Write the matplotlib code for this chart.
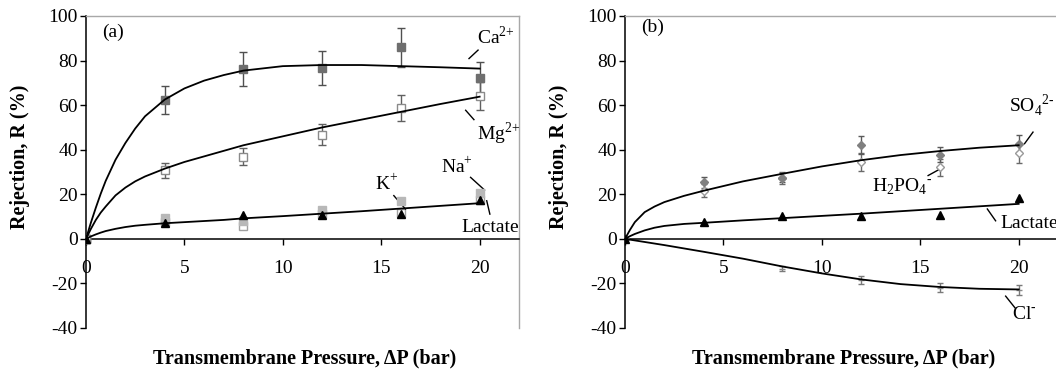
import matplotlib
matplotlib.use("Agg")
import matplotlib.pyplot as plt

plt.rcParams['font.family'] = ['Liberation Serif', 'DejaVu Serif']
plt.rcParams['mathtext.fontset'] = 'custom'
plt.rcParams['mathtext.rm'] = 'Liberation Serif'
plt.rcParams['axes.unicode_minus'] = False

# ---- panel (a): cations ----
p_a = [0, 4, 8, 12, 16, 20]
ca = [0, 62.3, 76.3, 76.6, 86.0, 72.4]
ca_err = [0, 6.2, 7.7, 7.7, 8.7, 7.0]
mg = [0, 30.8, 36.9, 46.7, 58.7, 64.0]
mg_err = [0, 3.3, 3.8, 4.7, 6.0, 6.3]
na = [0, 9.3, 8.1, 13.0, 16.8, 20.5]
k = [0, 7.5, 5.7, 11.0, 11.5, 17.5]
lac_a = [0, 6.9, 10.7, 10.7, 11.1, 17.6]

# fitted curves of panel (a)
fit_p = [0, 0.25, 0.5, 0.75, 1, 1.5, 2, 2.5, 3, 4, 5, 6, 7, 8, 10, 12, 14, 16, 18, 20]
ca_fit = [0, 7.3, 14, 20.3, 26, 35.5, 43, 49.5, 55, 62.5, 67.5, 71, 73.5, 75.5, 77.5, 78, 78, 77.5, 77, 76.4]
mg_fit = [0, 4.5, 8.5, 11.8, 14.5, 19.5, 23, 25.8, 28, 31.5, 34.5, 37, 39.5, 42, 46, 50, 53.5, 57, 60.5, 63.8]
low_fit_a = [0, 1.1, 2, 2.8, 3.5, 4.5, 5.3, 5.9, 6.3, 7, 7.5, 8, 8.5, 9.2, 10.2, 11.3, 12.4, 13.6, 14.8, 16]

# ---- panel (b): anions ----
p_b = [0, 4, 8, 12, 16, 20]
so4 = [0, 25.4, 27.5, 42.3, 37.8, 42.6]
so4_err = [0, 2.5, 2.0, 4.0, 3.3, 3.8]
h2po4 = [0, 21.6, 27.3, 34.4, 32.1, 38.4]
h2po4_err = [0, 3.0, 2.6, 4.0, 3.7, 4.5]
lac_b = [0, 7.4, 10.4, 10.2, 10.8, 18.3]
p_cl = [0, 8, 12, 16, 20]
cl = [0, -13.4, -18.5, -21.9, -22.8]
cl_err = [0, 1.2, 1.9, 2.0, 2.2]

fit_pb = [0, 0.25, 0.5, 1, 1.5, 2, 3, 4, 6, 8, 10, 12, 14, 16, 18, 20]
so4_fit = [0, 4, 7.5, 12, 14.5, 16.5, 19.3, 21.6, 25.8, 29.2, 32.5, 35.3, 37.6, 39.4, 40.9, 42]
lac_fit_b = [0, 1.2, 2.2, 3.8, 5, 5.8, 6.7, 7.2, 8.3, 9.3, 10.3, 11.3, 12.4, 13.5, 14.6, 15.7]
cl_fit_p = [0, 2, 4, 6, 8, 10, 12, 14, 16, 18, 20]
cl_fit = [0, -2.8, -5.8, -8.9, -12.4, -15.5, -18.2, -20.3, -21.6, -22.4, -22.7]

y_ticks = [-40, -20, 0, 20, 40, 60, 80, 100]
x_ticks = [0, 5, 10, 15, 20]

W, H = 1056, 371
fig = plt.figure(figsize=(W / 100, H / 100), dpi=100)
ax_a = fig.add_axes([86 / W, 1 - 328 / H, 433 / W, 312 / H])
ax_b = fig.add_axes([625 / W, 1 - 328 / H, 433 / W, 312 / H])


def style_axes(ax):
    ax.set_xlim(0, 22)
    ax.set_ylim(-40, 100)
    ax.set_yticks(y_ticks)
    ax.set_xticks(x_ticks)
    ax.spines['bottom'].set_position(('data', 0))
    ax.spines['bottom'].set_linewidth(1.1)
    ax.spines['left'].set_linewidth(1.1)
    for s in ['top', 'right']:
        ax.spines[s].set_color('#a8a8a8')
        ax.spines[s].set_linewidth(1.0)
    ax.tick_params(axis='y', direction='out', length=4.5, width=1, pad=1.5, labelsize=14)
    ax.tick_params(axis='x', direction='out', length=4, width=1, pad=11, labelsize=14)
    ax.set_ylabel('Rejection, R (%)', fontsize=14.5, fontweight='bold')
    ax.yaxis.set_label_coords(-0.13, 0.55)
    ax.set_xlabel('Transmembrane Pressure, ΔP (bar)', fontsize=14.5, fontweight='bold')
    ax.xaxis.set_label_coords(0.505, -0.065)


def pointer(ax, x0, y0, x1, y1):
    ax.plot([x0, x1], [y0, y1], color='black', lw=1.0, clip_on=False)


style_axes(ax_a)
style_axes(ax_b)

# panel (a)
ax_a.plot(fit_p, ca_fit, color='black', lw=1.3, zorder=4)
ax_a.plot(fit_p, mg_fit, color='black', lw=1.3, zorder=4)
ax_a.plot(fit_p, low_fit_a, color='black', lw=1.3, zorder=4)
ax_a.errorbar(p_a, ca, yerr=ca_err, fmt='s', ms=6, color='#6e6e6e', ecolor='#505050',
              elinewidth=1.0, capsize=3, capthick=1.0, zorder=3)
ax_a.errorbar(p_a, mg, yerr=mg_err, fmt='s', ms=6, mfc='white', mec='#8a8a8a', ecolor='#606060',
              elinewidth=1.0, capsize=3, capthick=1.0, zorder=3)
ax_a.plot(p_a, k, 's', ms=6, mfc='white', mec='#a0a0a0', zorder=2)
ax_a.plot(p_a, na, 's', ms=6, color='#b8b8b8', zorder=3)
ax_a.plot(p_a, lac_a, '^', ms=5.5, color='black', zorder=5)

ax_a.text(1.35, 92.6, '(a)', fontsize=14, ha='center', va='center')
ax_a.text(19.85, 90.5, r'Ca$^{2\text{+}}$', fontsize=14, ha='left', va='center')
pointer(ax_a, 19.46, 80.9, 19.92, 84.7)
ax_a.text(19.85, 47.3, r'Mg$^{2\text{+}}$', fontsize=14, ha='left', va='center')
pointer(ax_a, 19.29, 57.7, 19.71, 53.5)
ax_a.text(18.86, 32.1, r'Na$^{\text{+}}$', fontsize=14, ha='center', va='center')
pointer(ax_a, 19.54, 27.6, 20.25, 21.9)
ax_a.text(15.26, 24.6, r'K$^{\text{+}}$', fontsize=14, ha='center', va='center')
pointer(ax_a, 15.64, 19.4, 16.23, 13.4)
ax_a.text(20.56, 5.1, 'Lactate', fontsize=14, ha='center', va='center')
pointer(ax_a, 20.36, 17.1, 20.52, 11.1)

# panel (b)
ax_b.plot(fit_pb, so4_fit, color='black', lw=1.3, zorder=4)
ax_b.plot(fit_pb, lac_fit_b, color='black', lw=1.3, zorder=4)
ax_b.plot(cl_fit_p, cl_fit, color='black', lw=1.3, zorder=4)
ax_b.errorbar(p_b, h2po4, yerr=h2po4_err, fmt='D', ms=4, mfc='white', mec='#9a9a9a', ecolor='#6a6a6a',
              elinewidth=1.0, capsize=2.5, capthick=1.0, zorder=3)
ax_b.errorbar(p_b, so4, yerr=so4_err, fmt='D', ms=4, color='#808080', ecolor='#5a5a5a',
              elinewidth=1.0, capsize=2.5, capthick=1.0, zorder=3)
ax_b.errorbar(p_cl, cl, yerr=cl_err, fmt='_', ms=5, color='#8a8a8a', ecolor='#7a7a7a',
              elinewidth=1.0, capsize=2.5, capthick=1.0, zorder=3)
ax_b.plot(p_b, lac_b, '^', ms=5.5, color='black', zorder=5)

ax_b.text(1.4, 94.8, '(b)', fontsize=14, ha='center', va='center')
ax_b.text(19.5, 59.9, r'SO$_4$$^{2\text{-}}$', fontsize=14, ha='left', va='center', clip_on=False)
pointer(ax_b, 20.3, 42.7, 20.73, 47.9)
ax_b.text(14.1, 23.4, r'H$_2$PO$_4$$^{\text{-}}$', fontsize=14, ha='center', va='center')
pointer(ax_b, 15.4, 28.4, 16.16, 32.1)
ax_b.text(19.05, 6.8, 'Lactate', fontsize=14, ha='left', va='center')
pointer(ax_b, 18.41, 13.4, 18.83, 8.1)
ax_b.text(20.3, -33.8, r'Cl$^{\text{-}}$', fontsize=14, ha='center', va='center')
pointer(ax_b, 19.34, -25.7, 19.81, -30.9)

fig.savefig('out.png', dpi=100)
